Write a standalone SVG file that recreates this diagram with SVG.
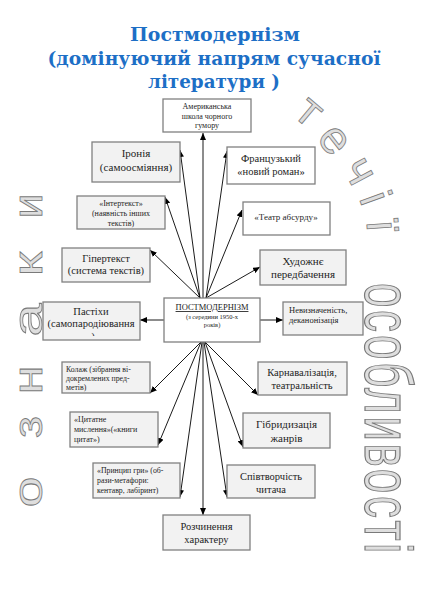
<svg xmlns="http://www.w3.org/2000/svg" width="429" height="607" viewBox="0 0 429 607">
<defs>
<marker id="ah" markerUnits="userSpaceOnUse" markerWidth="7" markerHeight="6" refX="7" refY="3" orient="auto">
<path d="M0,0 L7,3 L0,6 z" fill="#000"/>
</marker>
<clipPath id="clipP"><rect x="43" y="302" width="97" height="34"/></clipPath>
</defs>
<style>
.g{fill:#f2f2f2;stroke:#808080;stroke-width:1.3}
.w{fill:#fff;stroke:#808080;stroke-width:1.3}
.t{font-family:"Liberation Serif","Times New Roman",serif;fill:#1e1e1e;text-anchor:middle}
.l{font-family:"Liberation Serif","Times New Roman",serif;fill:#1e1e1e}
.title{font-family:"DejaVu Serif","Liberation Serif",serif;font-weight:bold;font-size:19px;fill:#1d6fc6;text-anchor:middle}
.wa{font-family:"Liberation Sans",Arial,sans-serif;fill:#dedede;stroke:#7a7a7a;stroke-width:0.8}
.c line{stroke:#000;stroke-width:0.9;marker-end:url(#ah)}
</style>
<rect width="429" height="607" fill="#fff"/>

<g id="title">
<text class="title" x="215" y="41" textLength="170" lengthAdjust="spacingAndGlyphs">Постмодернізм</text>
<text class="title" x="214" y="65" textLength="333" lengthAdjust="spacingAndGlyphs">(домінуючий напрям сучасної</text>
<text class="title" x="214" y="88" textLength="132" lengthAdjust="spacingAndGlyphs">літератури )</text>
</g>

<g id="wordart-left" class="wa" font-size="40">
<text transform="translate(42,492) rotate(-90) scale(1.4,1)" text-anchor="middle">о</text>
<text transform="translate(42,427) rotate(-90) scale(1.2,1)" text-anchor="middle">з</text>
<text transform="translate(42,380) rotate(-90) scale(1.3,1)" text-anchor="middle">н</text>
<text transform="translate(42,320) rotate(-90) scale(1.5,1)" text-anchor="middle">а</text>
<text transform="translate(42,264) rotate(-90) scale(1.4,1)" text-anchor="middle">к</text>
<text transform="translate(42,206) rotate(-90) scale(1.1,1)" text-anchor="middle">и</text>
</g>

<g id="wordart-arc" class="wa" font-size="46">
<text transform="translate(308,113) rotate(40)" text-anchor="middle" dy="12">т</text>
<text transform="translate(333,141) rotate(52)" text-anchor="middle" dy="12">е</text>
<text transform="translate(358,172) rotate(62)" text-anchor="middle" dy="12">ч</text>
<text transform="translate(372,199) rotate(70)" text-anchor="middle" dy="12">і</text>
<text transform="translate(379,226) rotate(86)" text-anchor="middle" dy="12">ї</text>
</g>

<g id="wordart-right" class="wa" font-size="44" stroke-width="0.55">
<text transform="translate(365,283) rotate(90) scale(1,1.5)" textLength="270" lengthAdjust="spacing">особливості</text>
</g>

<g class="c" id="connectors">
<line x1="203" y1="298" x2="203" y2="133"/>
<line x1="200" y1="298" x2="180" y2="150"/>
<line x1="200" y1="298" x2="165" y2="197"/>
<line x1="200" y1="298" x2="150" y2="250"/>
<line x1="164" y1="320" x2="140" y2="320"/>
<line x1="206" y1="298" x2="227" y2="151"/>
<line x1="206" y1="298" x2="242" y2="210"/>
<line x1="206" y1="298" x2="260" y2="267"/>
<line x1="260" y1="320" x2="283" y2="320"/>
<line x1="201" y1="342" x2="150" y2="393"/>
<line x1="201" y1="342" x2="158" y2="445"/>
<line x1="202" y1="342" x2="180" y2="497"/>
<line x1="203" y1="342" x2="203" y2="515"/>
<line x1="205" y1="342" x2="258" y2="395"/>
<line x1="205" y1="342" x2="243" y2="447"/>
<line x1="204" y1="342" x2="227" y2="497"/>
</g>

<g id="n-americanska">
<rect class="w" x="163" y="99" width="88" height="33"/>
<text class="t" font-size="8" x="207" y="109">Американська</text>
<text class="t" font-size="8" x="207" y="119">школа чорного</text>
<text class="t" font-size="8" x="207" y="128">гумору</text>
</g>
<g id="n-ironiia">
<rect class="g" x="92" y="142" width="88" height="40"/>
<text class="t" font-size="11" x="136" y="157">Іронія</text>
<text class="t" font-size="11" x="136" y="171">(самоосміяння)</text>
</g>
<g id="n-frantsuzkyi">
<rect class="w" x="227" y="147" width="88" height="37"/>
<text class="t" font-size="10.5" x="271" y="162">Французький</text>
<text class="t" font-size="10.5" x="271" y="175">«новий роман»</text>
</g>
<g id="n-intertekst">
<rect class="g" x="77" y="196" width="88" height="33"/>
<text class="t" font-size="8" x="121" y="206">«Інтертекст»</text>
<text class="t" font-size="8" x="121" y="216">(наявність інших</text>
<text class="t" font-size="8" x="121" y="226">текстів)</text>
</g>
<g id="n-teatr">
<rect class="w" x="243" y="202" width="87" height="33"/>
<text class="t" font-size="9" x="286" y="220">«Театр абсурду»</text>
</g>
<g id="n-hipertekst">
<rect class="g" x="62" y="248" width="88" height="34"/>
<text class="t" font-size="10.5" x="106" y="262">Гіпертекст</text>
<text class="t" font-size="10.5" x="106" y="274">(система текстів)</text>
</g>
<g id="n-khudozhne">
<rect class="g" x="260" y="250" width="86" height="35"/>
<text class="t" font-size="11" x="303" y="265">Художнє</text>
<text class="t" font-size="11" x="303" y="278">передбачення</text>
</g>
<g id="n-pastikhy">
<rect class="g" x="43" y="302" width="97" height="38"/>
<text class="t" font-size="10.5" x="91" y="315">Пастіхи</text>
<text class="t" font-size="10.5" x="91" y="327">(самопародіювання</text>
<text class="t" font-size="10.5" x="93" y="340" clip-path="url(#clipP)">)</text>
</g>
<g id="n-center">
<rect class="w" x="164" y="298" width="96" height="44"/>
<text class="t" font-size="8.5" x="212" y="310" text-decoration="underline">ПОСТМОДЕРНІЗМ</text>
<text class="t" font-size="6.5" x="212" y="319">(з середини 1950-х</text>
<text class="t" font-size="6.5" x="212" y="327">років)</text>
</g>
<g id="n-nevyznachenist">
<rect class="g" x="283" y="302" width="80" height="33"/>
<text class="l" font-size="8.5" x="289" y="313">Невизначеність,</text>
<text class="l" font-size="8.5" x="289" y="323">деканонізація</text>
</g>
<g id="n-kolazh">
<rect class="g" x="62" y="362" width="88" height="31"/>
<text class="l" font-size="7.8" x="66" y="372">Колаж (зібрання ві-</text>
<text class="l" font-size="7.8" x="66" y="381">докремлених пред-</text>
<text class="l" font-size="7.8" x="66" y="390">метів)</text>
</g>
<g id="n-karnavalizatsiia">
<rect class="g" x="258" y="362" width="89" height="33"/>
<text class="t" font-size="10.5" x="302" y="376">Карнавалізація,</text>
<text class="t" font-size="10.5" x="302" y="389">театральність</text>
</g>
<g id="n-tsytatne">
<rect class="g" x="70" y="412" width="88" height="35"/>
<text class="l" font-size="8" x="74" y="422">«Цитатне</text>
<text class="l" font-size="8" x="74" y="432">мислення»(«книги</text>
<text class="l" font-size="8" x="74" y="442">цитат»)</text>
</g>
<g id="n-hibrydyzatsiia">
<rect class="g" x="243" y="413" width="87" height="35"/>
<text class="t" font-size="11" x="286.5" y="428">Гібридизація</text>
<text class="t" font-size="11" x="286.5" y="442">жанрів</text>
</g>
<g id="n-pryntsyp">
<rect class="g" x="93" y="463" width="87" height="35"/>
<text class="l" font-size="7.8" x="97" y="473">«Принцип гри» (об-</text>
<text class="l" font-size="7.8" x="97" y="483">рази-метафори:</text>
<text class="l" font-size="7.8" x="97" y="493">кентавр, лабіринт)</text>
</g>
<g id="n-spivtvorchist">
<rect class="g" x="227" y="465" width="88" height="33"/>
<text class="t" font-size="10.5" x="271" y="480">Співтворчість</text>
<text class="t" font-size="10.5" x="271" y="493">читача</text>
</g>
<g id="n-rozchynennia">
<rect class="g" x="163" y="515" width="87" height="35"/>
<text class="t" font-size="10.5" x="206.5" y="530">Розчинення</text>
<text class="t" font-size="10.5" x="206.5" y="543">характеру</text>
</g>
</svg>
